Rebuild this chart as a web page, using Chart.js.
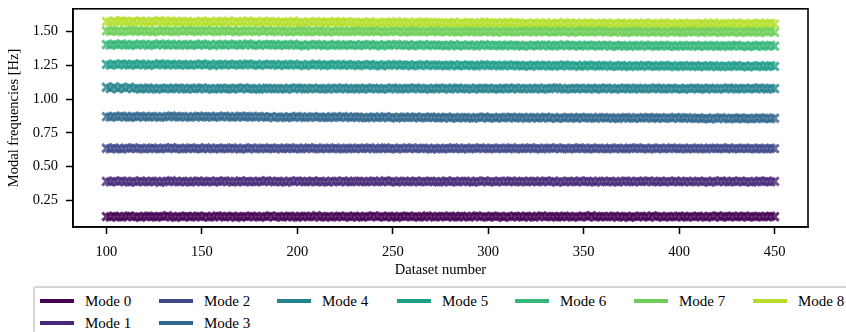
<!DOCTYPE html>
<html>
<head>
<meta charset="utf-8">
<script src="https://cdn.jsdelivr.net/npm/chart.js@4.4.1/dist/chart.umd.min.js"></script>
<style>
  body { margin: 0; width: 846px; height: 332px; overflow: hidden; background: #fff; position: relative; font-family: "Liberation Serif", "Times New Roman", serif; }
  #chartBox { position: absolute; left: 0; top: 0; width: 846px; height: 285px; }
  #legend { position: absolute; left: 33px; top: 286px; width: 830px; height: 60px; border: 2px solid #d4d4d4; border-radius: 3px; box-sizing: border-box; }
  .item { position: absolute; height: 20px; display: flex; align-items: center; font-size: 15px; color: #000; white-space: nowrap; }
  .swatch { width: 34px; height: 4px; margin-right: 11px; }
</style>
</head>
<body>
<div id="chartBox"><canvas id="modesChart" width="846" height="285"></canvas></div>
<div id="legend"></div>
<script>
// dataset numbers (every second dataset)
const datasetNumbers = [
  100,102,104,106,108,110,112,114,116,118,120,122,124,126,128,130,132,134,136,138,140,142,
  144,146,148,150,152,154,156,158,160,162,164,166,168,170,172,174,176,178,180,182,184,186,
  188,190,192,194,196,198,200,202,204,206,208,210,212,214,216,218,220,222,224,226,228,230,
  232,234,236,238,240,242,244,246,248,250,252,254,256,258,260,262,264,266,268,270,272,274,
  276,278,280,282,284,286,288,290,292,294,296,298,300,302,304,306,308,310,312,314,316,318,
  320,322,324,326,328,330,332,334,336,338,340,342,344,346,348,350,352,354,356,358,360,362,
  364,366,368,370,372,374,376,378,380,382,384,386,388,390,392,394,396,398,400,402,404,406,
  408,410,412,414,416,418,420,422,424,426,428,430,432,434,436,438,440,442,444,446,448,450
];

const mode0 = [
  0.131,0.128,0.134,0.130,0.127,0.133,0.136,0.129,0.131,0.126,0.132,0.135,0.130,0.128,0.133,0.131,0.137,0.129,0.126,0.132,0.130,0.134,
  0.128,0.131,0.135,0.129,0.133,0.127,0.130,0.136,0.132,0.128,0.131,0.134,0.126,0.130,0.133,0.129,0.135,0.131,0.127,0.132,0.130,0.136,
  0.129,0.133,0.128,0.131,0.135,0.130,0.126,0.132,0.134,0.129,0.131,0.137,0.128,0.130,0.133,0.127,0.131,0.135,0.129,0.132,0.128,0.134,
  0.130,0.127,0.133,0.131,0.136,0.129,0.132,0.128,0.134,0.130,0.126,0.133,0.131,0.135,0.129,0.132,0.128,0.130,0.136,0.131,0.127,0.133,
  0.132,0.129,0.135,0.130,0.128,0.134,0.131,0.127,0.133,0.136,0.129,0.131,0.128,0.134,0.130,0.132,0.126,0.133,0.129,0.135,0.131,0.128,
  0.134,0.130,0.127,0.132,0.136,0.129,0.131,0.133,0.128,0.130,0.135,0.131,0.127,0.132,0.129,0.134,0.130,0.137,0.128,0.131,0.133,0.129,
  0.131,0.135,0.128,0.130,0.133,0.126,0.132,0.129,0.134,0.131,0.128,0.136,0.130,0.132,0.127,0.133,0.131,0.129,0.135,0.130,0.128,0.132,
  0.129,0.134,0.131,0.127,0.133,0.130,0.136,0.128,0.132,0.130,0.134,0.129,0.131,0.135,0.128,0.132,0.130,0.133,0.129,0.131,0.134,0.130
];
const mode1 = [
  0.391,0.387,0.393,0.389,0.395,0.390,0.386,0.392,0.388,0.394,0.390,0.387,0.393,0.391,0.385,0.389,0.392,0.396,0.390,0.388,0.393,0.389,
  0.386,0.391,0.394,0.388,0.390,0.393,0.387,0.392,0.389,0.395,0.391,0.386,0.390,0.394,0.388,0.392,0.390,0.387,0.393,0.389,0.396,0.391,
  0.388,0.392,0.390,0.386,0.393,0.389,0.395,0.391,0.387,0.390,0.394,0.388,0.392,0.389,0.386,0.393,0.391,0.388,0.395,0.390,0.387,0.392,
  0.393,0.389,0.387,0.391,0.394,0.388,0.390,0.396,0.389,0.392,0.386,0.391,0.393,0.388,0.390,0.394,0.387,0.391,0.389,0.393,0.390,0.386,
  0.390,0.394,0.388,0.392,0.387,0.391,0.393,0.389,0.386,0.392,0.390,0.395,0.388,0.391,0.387,0.393,0.389,0.391,0.394,0.388,0.390,0.392,
  0.387,0.391,0.393,0.388,0.390,0.395,0.389,0.392,0.386,0.391,0.388,0.393,0.390,0.387,0.394,0.389,0.392,0.390,0.386,0.393,0.391,0.388,
  0.392,0.389,0.386,0.391,0.394,0.390,0.387,0.393,0.389,0.391,0.395,0.388,0.390,0.392,0.387,0.391,0.389,0.394,0.388,0.390,0.393,0.387,
  0.390,0.393,0.388,0.391,0.386,0.392,0.389,0.395,0.390,0.387,0.392,0.389,0.393,0.388,0.391,0.386,0.390,0.394,0.389,0.392,0.388,0.391
];
const mode2 = [
  0.636,0.632,0.638,0.634,0.630,0.637,0.635,0.639,0.633,0.636,0.631,0.635,0.638,0.634,0.632,0.637,0.635,0.640,0.633,0.636,0.631,0.635,
  0.638,0.634,0.636,0.632,0.639,0.635,0.631,0.637,0.634,0.636,0.633,0.638,0.635,0.630,0.636,0.634,0.639,0.632,0.635,0.637,0.633,0.636,
  0.634,0.637,0.632,0.635,0.638,0.633,0.636,0.631,0.635,0.639,0.634,0.636,0.632,0.637,0.635,0.633,0.638,0.634,0.631,0.636,0.635,0.633,
  0.637,0.633,0.635,0.639,0.634,0.632,0.636,0.638,0.633,0.635,0.631,0.637,0.634,0.636,0.639,0.632,0.635,0.637,0.634,0.630,0.636,0.634,
  0.632,0.636,0.634,0.638,0.635,0.631,0.637,0.633,0.636,0.634,0.639,0.635,0.632,0.636,0.634,0.637,0.633,0.635,0.638,0.632,0.636,0.634,
  0.635,0.638,0.633,0.636,0.631,0.635,0.637,0.634,0.639,0.633,0.635,0.632,0.636,0.634,0.638,0.635,0.631,0.636,0.633,0.637,0.634,0.632,
  0.636,0.633,0.637,0.634,0.632,0.636,0.635,0.638,0.633,0.635,0.631,0.636,0.634,0.637,0.632,0.635,0.639,0.634,0.633,0.636,0.632,0.635,
  0.633,0.636,0.634,0.631,0.637,0.635,0.633,0.636,0.634,0.638,0.632,0.635,0.634,0.637,0.633,0.635,0.631,0.636,0.634,0.632,0.636,0.633
];
const mode3 = [
  0.870,0.866,0.872,0.868,0.874,0.869,0.865,0.871,0.867,0.873,0.869,0.866,0.872,0.870,0.864,0.868,0.871,0.875,0.869,0.867,0.872,0.868,
  0.865,0.870,0.873,0.867,0.869,0.872,0.866,0.871,0.868,0.874,0.870,0.865,0.869,0.873,0.867,0.871,0.869,0.866,0.872,0.868,0.864,0.870,
  0.863,0.868,0.866,0.862,0.869,0.865,0.871,0.867,0.863,0.866,0.870,0.864,0.868,0.865,0.862,0.869,0.867,0.864,0.871,0.866,0.863,0.868,
  0.867,0.863,0.861,0.865,0.868,0.862,0.864,0.870,0.863,0.866,0.860,0.865,0.867,0.862,0.864,0.868,0.861,0.865,0.863,0.867,0.864,0.860,
  0.862,0.866,0.860,0.864,0.859,0.863,0.865,0.861,0.858,0.864,0.862,0.867,0.860,0.863,0.859,0.865,0.861,0.863,0.866,0.860,0.862,0.864,
  0.858,0.862,0.864,0.859,0.861,0.866,0.860,0.863,0.857,0.862,0.859,0.864,0.861,0.858,0.865,0.860,0.863,0.861,0.857,0.864,0.862,0.859,
  0.862,0.859,0.856,0.861,0.864,0.860,0.857,0.863,0.859,0.861,0.865,0.858,0.860,0.862,0.857,0.861,0.859,0.864,0.858,0.860,0.863,0.857,
  0.857,0.860,0.855,0.858,0.853,0.859,0.856,0.862,0.857,0.854,0.859,0.856,0.860,0.855,0.858,0.853,0.857,0.861,0.856,0.859,0.855,0.858
];
const mode4 = [
  1.087,1.078,1.089,1.076,1.086,1.079,1.088,1.077,1.080,1.074,1.078,1.082,1.076,1.073,1.079,1.077,1.081,1.075,1.078,1.083,1.076,1.074,
  1.080,1.076,1.078,1.082,1.075,1.079,1.073,1.077,1.081,1.076,1.078,1.074,1.080,1.077,1.083,1.075,1.079,1.076,1.072,1.078,1.081,1.077,
  1.075,1.079,1.077,1.073,1.080,1.076,1.082,1.078,1.074,1.077,1.081,1.075,1.079,1.076,1.073,1.080,1.078,1.075,1.082,1.077,1.074,1.079,
  1.078,1.074,1.080,1.076,1.081,1.077,1.073,1.079,1.075,1.082,1.078,1.074,1.077,1.080,1.076,1.083,1.077,1.075,1.079,1.073,1.078,1.081,
  1.076,1.080,1.074,1.078,1.082,1.075,1.077,1.079,1.073,1.080,1.076,1.078,1.081,1.075,1.077,1.074,1.080,1.078,1.076,1.082,1.075,1.077,
  1.079,1.075,1.077,1.081,1.074,1.078,1.076,1.080,1.083,1.077,1.073,1.079,1.076,1.078,1.081,1.075,1.077,1.080,1.074,1.078,1.076,1.082,
  1.077,1.073,1.079,1.076,1.080,1.078,1.074,1.081,1.077,1.075,1.079,1.076,1.082,1.078,1.074,1.077,1.080,1.075,1.078,1.073,1.079,1.076,
  1.080,1.076,1.078,1.074,1.081,1.077,1.075,1.079,1.076,1.082,1.078,1.074,1.077,1.080,1.075,1.079,1.076,1.083,1.077,1.074,1.079,1.077
];
const mode5 = [
  1.256,1.251,1.258,1.253,1.260,1.255,1.250,1.257,1.252,1.259,1.254,1.249,1.256,1.253,1.261,1.255,1.251,1.258,1.254,1.250,1.257,1.253,
  1.250,1.256,1.253,1.259,1.252,1.255,1.248,1.257,1.254,1.251,1.258,1.253,1.256,1.250,1.255,1.260,1.252,1.254,1.249,1.257,1.253,1.256,
  1.254,1.249,1.256,1.251,1.253,1.258,1.250,1.252,1.247,1.255,1.251,1.257,1.253,1.248,1.254,1.250,1.256,1.252,1.249,1.255,1.251,1.253,
  1.247,1.253,1.250,1.255,1.248,1.251,1.246,1.254,1.249,1.252,1.256,1.248,1.250,1.253,1.245,1.251,1.249,1.254,1.247,1.252,1.250,1.248,
  1.251,1.246,1.249,1.253,1.245,1.250,1.247,1.252,1.248,1.244,1.250,1.254,1.247,1.249,1.251,1.245,1.248,1.252,1.246,1.250,1.248,1.243,
  1.248,1.244,1.250,1.245,1.247,1.251,1.243,1.246,1.249,1.244,1.252,1.247,1.245,1.249,1.242,1.246,1.250,1.245,1.248,1.243,1.247,1.249,
  1.241,1.246,1.243,1.248,1.244,1.240,1.247,1.245,1.242,1.249,1.244,1.246,1.241,1.245,1.248,1.243,1.246,1.240,1.244,1.247,1.242,1.245,
  1.244,1.240,1.246,1.241,1.243,1.247,1.239,1.242,1.245,1.240,1.244,1.248,1.241,1.243,1.238,1.245,1.242,1.246,1.240,1.243,1.247,1.241
];
const mode6 = [
  1.403,1.398,1.405,1.400,1.407,1.401,1.397,1.404,1.399,1.406,1.402,1.396,1.403,1.400,1.408,1.401,1.398,1.405,1.400,1.397,1.404,1.401,
  1.397,1.403,1.399,1.406,1.400,1.402,1.395,1.404,1.401,1.398,1.405,1.400,1.403,1.397,1.402,1.407,1.399,1.401,1.396,1.404,1.400,1.403,
  1.401,1.396,1.403,1.398,1.400,1.405,1.397,1.399,1.394,1.402,1.398,1.404,1.400,1.395,1.401,1.397,1.403,1.399,1.396,1.402,1.398,1.400,
  1.395,1.401,1.398,1.403,1.396,1.399,1.394,1.402,1.397,1.400,1.404,1.396,1.398,1.401,1.393,1.399,1.397,1.402,1.395,1.400,1.398,1.396,
  1.399,1.394,1.397,1.401,1.393,1.398,1.395,1.400,1.396,1.392,1.398,1.402,1.395,1.397,1.399,1.393,1.396,1.400,1.394,1.398,1.396,1.391,
  1.397,1.393,1.399,1.394,1.396,1.400,1.392,1.395,1.398,1.393,1.401,1.396,1.394,1.398,1.391,1.395,1.399,1.394,1.397,1.392,1.396,1.398,
  1.390,1.395,1.392,1.397,1.393,1.389,1.396,1.394,1.391,1.398,1.393,1.395,1.390,1.394,1.397,1.392,1.395,1.389,1.393,1.396,1.391,1.394,
  1.394,1.390,1.396,1.391,1.393,1.397,1.389,1.392,1.395,1.390,1.394,1.398,1.391,1.393,1.388,1.395,1.392,1.396,1.390,1.393,1.397,1.391
];
const mode7 = [
  1.504,1.500,1.507,1.502,1.498,1.505,1.501,1.508,1.503,1.499,1.506,1.502,1.497,1.504,1.501,1.507,1.500,1.503,1.498,1.505,1.502,1.506,
  1.501,1.505,1.499,1.503,1.507,1.500,1.504,1.498,1.502,1.506,1.501,1.504,1.497,1.503,1.500,1.505,1.502,1.498,1.504,1.501,1.506,1.499,
  1.502,1.498,1.504,1.500,1.496,1.503,1.499,1.505,1.501,1.497,1.502,1.499,1.504,1.500,1.495,1.502,1.498,1.503,1.500,1.496,1.501,1.504,
  1.499,1.503,1.497,1.501,1.505,1.498,1.502,1.496,1.500,1.504,1.499,1.502,1.495,1.501,1.498,1.503,1.500,1.496,1.502,1.499,1.504,1.497,
  1.500,1.496,1.502,1.498,1.494,1.501,1.497,1.503,1.499,1.495,1.500,1.497,1.502,1.498,1.493,1.500,1.496,1.501,1.498,1.494,1.499,1.502,
  1.497,1.501,1.495,1.499,1.503,1.496,1.500,1.494,1.498,1.502,1.497,1.500,1.493,1.499,1.496,1.501,1.498,1.494,1.500,1.497,1.502,1.495,
  1.498,1.494,1.500,1.496,1.492,1.499,1.495,1.501,1.497,1.493,1.498,1.495,1.500,1.496,1.491,1.498,1.494,1.499,1.496,1.492,1.497,1.500,
  1.495,1.499,1.493,1.497,1.501,1.494,1.498,1.492,1.496,1.500,1.495,1.498,1.491,1.497,1.494,1.499,1.496,1.492,1.498,1.495,1.500,1.493
];
const mode8 = [
  1.574,1.569,1.577,1.571,1.579,1.573,1.568,1.576,1.570,1.578,1.572,1.567,1.575,1.571,1.580,1.573,1.569,1.577,1.572,1.568,1.575,1.571,
  1.567,1.573,1.569,1.576,1.570,1.572,1.565,1.575,1.571,1.568,1.577,1.570,1.574,1.567,1.572,1.578,1.569,1.571,1.566,1.575,1.570,1.573,
  1.570,1.565,1.572,1.567,1.569,1.575,1.566,1.568,1.562,1.571,1.567,1.574,1.569,1.564,1.570,1.566,1.573,1.568,1.564,1.571,1.567,1.569,
  1.562,1.568,1.565,1.571,1.563,1.566,1.560,1.569,1.564,1.567,1.572,1.563,1.565,1.569,1.559,1.566,1.564,1.570,1.562,1.567,1.565,1.563,
  1.565,1.560,1.563,1.568,1.558,1.564,1.561,1.566,1.562,1.557,1.564,1.569,1.561,1.563,1.565,1.558,1.562,1.567,1.560,1.564,1.562,1.556,
  1.561,1.556,1.563,1.557,1.559,1.564,1.554,1.558,1.562,1.556,1.565,1.559,1.557,1.562,1.553,1.558,1.563,1.557,1.560,1.554,1.559,1.562,
  1.553,1.559,1.556,1.562,1.557,1.552,1.560,1.558,1.554,1.563,1.557,1.559,1.553,1.558,1.562,1.555,1.559,1.552,1.557,1.561,1.554,1.558,
  1.558,1.553,1.560,1.554,1.557,1.562,1.552,1.555,1.559,1.553,1.558,1.563,1.554,1.557,1.551,1.559,1.555,1.560,1.553,1.557,1.561,1.554
];

const modeSeries = [mode0, mode1, mode2, mode3, mode4, mode5, mode6, mode7, mode8];
const modeLabels = ['Mode 0', 'Mode 1', 'Mode 2', 'Mode 3', 'Mode 4', 'Mode 5', 'Mode 6', 'Mode 7', 'Mode 8'];
const modeColors = ['#440154', '#482878', '#3e4989', '#31688e', '#26828e', '#1f9e89', '#35b779', '#6ece58', '#b5de2b'];
const xTicks = [100, 150, 200, 250, 300, 350, 400, 450];
const yTicks = [0.25, 0.50, 0.75, 1.00, 1.25, 1.50];

const serif = '"Liberation Serif", "Times New Roman", serif';

// black box round the plot area, like the matplotlib spines
const framePlugin = {
    id: 'frame',
    afterDraw(chart) {
        const { ctx, chartArea: a } = chart;
        ctx.save();
        ctx.strokeStyle = '#000';
        ctx.lineWidth = 1.6;
        ctx.strokeRect(a.left, a.top, a.right - a.left, a.bottom - a.top);
        ctx.restore();
    }
};

const ctx = document.getElementById('modesChart').getContext('2d');
new Chart(ctx, {
    type: 'scatter',
    data: {
        datasets: modeSeries.map((vals, i) => ({
            label: modeLabels[i],
            data: datasetNumbers.map((x, j) => ({ x: x, y: vals[j] })).filter(p => p.y !== undefined),
            pointStyle: 'crossRot',
            pointRadius: 5.8,
            pointBorderWidth: 3,
            borderColor: modeColors[i] + 'cc',
            backgroundColor: modeColors[i] + 'cc',
            showLine: false
        }))
    },
    options: {
        responsive: false,
        animation: false,
        devicePixelRatio: 1,
        layout: { padding: { top: 5, right: 38, left: 0, bottom: 0 } },
        plugins: {
            legend: { display: false },
            tooltip: { enabled: false }
        },
        scales: {
            x: {
                type: 'linear',
                min: 82.5,
                max: 467.5,
                afterFit: (scale) => { scale.height = 58; },
                afterBuildTicks: (scale) => { scale.ticks = xTicks.map(v => ({ value: v })); },
                grid: { drawOnChartArea: false, drawTicks: true, tickLength: 7, tickWidth: 1.5, tickColor: '#000' },
                border: { display: true, color: '#000', width: 1.6 },
                ticks: { color: '#000', padding: 9, maxRotation: 0, font: { family: serif, size: 14.5 } },
                title: { display: true, text: 'Dataset number', color: '#000', padding: { top: 0, bottom: 6 }, font: { family: serif, size: 14.5 } }
            },
            y: {
                min: 0.054,
                max: 1.667,
                afterFit: (scale) => { scale.width = 73; scale.paddingTop = 0; scale.paddingBottom = 0; },
                afterBuildTicks: (scale) => { scale.ticks = yTicks.map(v => ({ value: v })); },
                grid: { drawOnChartArea: false, drawTicks: true, tickLength: 7, tickWidth: 1.5, tickColor: '#000' },
                border: { display: true, color: '#000', width: 1.6 },
                ticks: { color: '#000', padding: 8, font: { family: serif, size: 14.5 }, callback: (v) => v.toFixed(2) },
                title: { display: true, text: 'Modal frequencies [Hz]', color: '#000', padding: { top: 5, bottom: 0 }, font: { family: serif, size: 14.5 } }
            }
        }
    },
    plugins: [framePlugin]
});

// legend below the plot, filled column by column like matplotlib (ncol = 7)
const legendCols = 7;
const legendColX = [5, 124, 242, 362, 480, 599, 718];
const legendRowY = [3, 25];
const legendEl = document.getElementById('legend');
const nItems = modeLabels.length;
const tallCols = nItems % legendCols;
const rowsPerTall = Math.ceil(nItems / legendCols);
let idx = 0;
for (let c = 0; c < legendCols && idx < nItems; c++) {
    const rows = c < tallCols ? rowsPerTall : Math.floor(nItems / legendCols);
    for (let r = 0; r < rows && idx < nItems; r++, idx++) {
        const item = document.createElement('div');
        item.className = 'item';
        item.style.left = legendColX[c] + 'px';
        item.style.top = legendRowY[r] + 'px';
        item.innerHTML = '<span class="swatch" style="background:' + modeColors[idx] + '"></span>' + modeLabels[idx];
        legendEl.appendChild(item);
    }
}
</script>
</body>
</html>
